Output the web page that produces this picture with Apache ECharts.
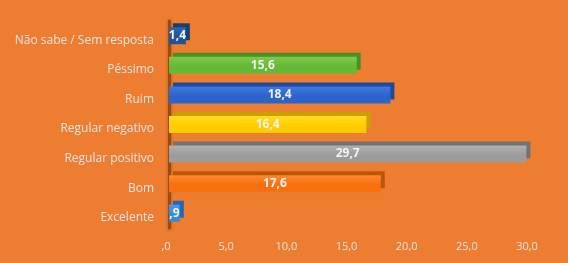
<!DOCTYPE html>
<html><head><meta charset="utf-8">
<script src="https://cdn.jsdelivr.net/npm/echarts@6/dist/echarts.min.js"></script>
<style>html,body{margin:0;padding:0;background:#ED7D31;}#c{width:568px;height:263px;}</style>
</head><body><div id="c"></div>
<script>
const categories = ['Não sabe / Sem resposta','Péssimo','Ruim','Regular negativo','Regular positivo','Bom','Excelente'];
const values = [1.4, 15.6, 18.4, 16.4, 29.7, 17.6, 0.9];
const lightColors = ['#2B66B0','#7CCB48','#3D78DE','#FFDD22','#B0B0B0','#FF8A2A','#4A9CEE'];
const barColors = ['#1F5597','#66B836','#2D64CC','#FFCC00','#9C9C9C','#F6700F','#3888DC'];
const sideColors = ['#173F72','#4C8E26','#1F4A9C','#C9A000','#727272','#B9560A','#2668B0'];
const ticks = [0,5,10,15,20,25,30];

function fmt(v){ return v === 0 ? ',0' : (v < 1 ? ',' + v.toFixed(1).split('.')[1] : v.toFixed(1).replace('.', ',')); }

const chart = echarts.init(document.getElementById('c'));
chart.setOption({
  backgroundColor: '#ED7D31',
  animation: false,
  grid: {left: 169, right: 38, top: 21, bottom: 35},
  xAxis: {
    type: 'value', min: ticks[0], max: ticks[ticks.length-1], interval: 5,
    axisLine: {show: false}, axisTick: {show: false}, splitLine: {show: false},
    axisLabel: {color: '#E4E4E4', fontFamily: 'Open Sans', fontSize: 11, margin: 13,
      padding: [0, 6, 0, 0], formatter: fmt}
  },
  yAxis: {
    type: 'category', data: categories, inverse: true,
    axisLine: {show: true, lineStyle: {color: '#9A4A14', width: 3, shadowColor: 'rgba(90,40,0,0.5)', shadowBlur: 3}},
    axisTick: {show: false},
    axisLabel: {color: '#E4E4E4', fontFamily: 'Open Sans', fontSize: 12, margin: 15,
      verticalAlign: 'top', lineHeight: 9}
  },
  series: [{
    type: 'bar', barWidth: 17,
    data: values.map((v, i) => ({
      value: v,
      itemStyle: {
        color: new echarts.graphic.LinearGradient(0,0,0,1,[
          {offset: 0, color: lightColors[i]},
          {offset: 0.55, color: barColors[i]},
          {offset: 1, color: barColors[i]}
        ]),
        shadowColor: sideColors[i], shadowOffsetX: 4, shadowOffsetY: -4, shadowBlur: 0
      }
    })),
    label: {show: true, position: 'inside', color: '#F2F2F2', fontWeight: 'bold',
      fontFamily: 'Open Sans', fontSize: 12, formatter: p => fmt(p.value)}
  }]
});
</script></body></html>
